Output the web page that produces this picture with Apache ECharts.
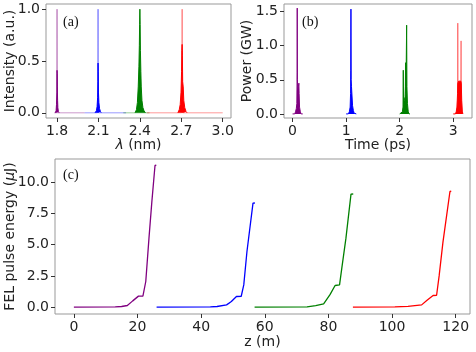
<!DOCTYPE html>
<html>
<head>
<meta charset="utf-8">
<script src="https://cdn.jsdelivr.net/npm/echarts@6/dist/echarts.min.js"></script>
<style>
  body { margin: 0; background: #fff; }
  #main { width: 476px; height: 352px; }
</style>
</head>
<body>
<div id="main"></div>
<script>
// ---- panel (a): spectra, wavelength (nm) vs intensity (a.u.)
var ticksA_x = [1.8, 2.1, 2.4, 2.7, 3.0];
var ticksA_y = [0, 0.5, 1.0];
var specPurpleLight = [[1.78,0],[1.798,0],[1.7995,0.5],[1.8,1.0],[1.8005,0.5],[1.802,0],[2.0,0]];
var specPurple = [[1.787,0],[1.793,0.02],[1.796,0.08],[1.799,0.2],[1.8,0.41],[1.801,0.38],[1.802,0.25],[1.804,0.12],[1.806,0.05],[1.81,0.01],[1.815,0]];
var specBlueLight = [[2.0,0],[2.094,0],[2.096,0.5],[2.097,1.0],[2.098,0.5],[2.1,0],[2.3,0]];
var specBlue = [[2.075,0],[2.085,0.02],[2.09,0.06],[2.094,0.15],[2.096,0.3],[2.097,0.48],[2.098,0.4],[2.1,0.2],[2.103,0.1],[2.108,0.04],[2.115,0.01],[2.12,0]];
var specGreenLight = [[2.28,0],[2.47,0]];
var specGreen = [[2.365,0],[2.375,0.03],[2.382,0.1],[2.388,0.25],[2.393,0.45],[2.396,0.65],[2.398,0.85],[2.4,1.0],[2.402,0.85],[2.404,0.6],[2.407,0.4],[2.41,0.25],[2.415,0.12],[2.422,0.05],[2.43,0.02],[2.44,0]];
var specRedLight = [[2.45,0],[2.703,0],[2.705,0.5],[2.706,1.0],[2.707,0.5],[2.709,0],[3.0,0]];
var specRed = [[2.675,0],[2.685,0.03],[2.692,0.08],[2.698,0.2],[2.702,0.4],[2.704,0.6],[2.706,0.66],[2.708,0.55],[2.71,0.3],[2.714,0.25],[2.718,0.12],[2.725,0.05],[2.735,0.01],[2.742,0]];

// ---- panel (b): power (GW) vs time (ps)
var ticksB_x = [0, 1, 2, 3];
var ticksB_y = [0, 0.5, 1.0, 1.5];
var powPurple = [[0,0],[0.04,0],[0.055,0.03],[0.07,0.08],[0.08,0.15],[0.085,0.6],[0.087,1.55],[0.09,0.5],[0.1,0.35],[0.11,0.4],[0.118,0.45],[0.122,0.3],[0.13,0.1],[0.145,0.03],[0.16,0],[0.19,0]];
var powBlue = [[1.0,0],[1.04,0],[1.06,0.03],[1.075,0.1],[1.083,0.3],[1.086,0.64],[1.09,1.535],[1.094,0.5],[1.1,0.4],[1.11,0.38],[1.12,0.12],[1.135,0.05],[1.15,0.01],[1.165,0],[1.19,0]];
var powGreen = [[2.0,0],[2.03,0],[2.05,0.03],[2.062,0.1],[2.067,0.64],[2.072,0.15],[2.085,0.2],[2.1,0.25],[2.106,0.4],[2.11,0.75],[2.116,0.3],[2.13,1.3],[2.135,0.4],[2.145,0.15],[2.16,0.03],[2.175,0],[2.19,0]];
var powRedLight = [[3.06,0],[3.08,0.2],[3.085,1.33],[3.09,0.3],[3.14,0.4],[3.146,1.07],[3.152,0.2],[3.17,0]];
var powRed = [[3.0,0],[3.04,0],[3.055,0.03],[3.07,0.1],[3.08,0.3],[3.085,0.45],[3.1,0.48],[3.12,0.5],[3.14,0.48],[3.15,0.45],[3.158,0.2],[3.168,0.04],[3.18,0],[3.19,0]];

// ---- panel (c): FEL pulse energy (uJ) vs z (m)
var ticksC_x = [0, 20, 40, 60, 80, 100, 120];
var ticksC_y = [0, 2.5, 5.0, 7.5, 10.0];
var enPurple = [[0,0],[13,0.02],[15,0.05],[16.8,0.13],[18.5,0.5],[20.3,0.88],[21.7,0.88],[22.6,2.05],[23.6,5.5],[24.5,8.4],[25.5,11.33],[25.9,11.35]];
var enBlue = [[26,0],[42.9,0.02],[45,0.05],[48,0.18],[49.5,0.45],[51.1,0.85],[52.6,0.87],[53.4,1.78],[54.4,4.45],[56.3,8.32],[56.9,8.33]];
var enGreen = [[56.8,0],[73.3,0.02],[76,0.12],[78.5,0.26],[80.5,1.0],[82.1,1.73],[83.5,1.78],[84.2,3.1],[85.5,5.5],[87.1,9.04],[87.8,9.05]];
var enRed = [[87.7,0],[100.9,0.02],[105,0.06],[109.3,0.18],[111,0.55],[112.9,0.93],[114,0.95],[114.8,2.5],[116,5.2],[118.2,9.25],[118.6,9.27]];

var PURPLE = '#800080', BLUE = '#0000ff', GREEN = '#008000', RED = '#ff0000';
var FONT = 'DejaVu Sans';

function axis(idx, min, max, ticks, digits, name, gap) {
  return {
    type: 'value', gridIndex: idx, min: min, max: max, name: name,
    nameLocation: 'middle', nameGap: gap, nameMoveOverlap: false,
    nameTextStyle: { fontSize: 14, color: '#222', fontFamily: FONT,
      rich: { i: { fontSize: 14, color: '#222', fontFamily: FONT, fontStyle: 'italic' } } },
    axisLine: { show: false, onZero: false },
    axisTick: { show: true, length: 4, customValues: ticks, lineStyle: { color: '#333' } },
    axisLabel: { customValues: ticks, fontSize: 14, color: '#222', fontFamily: FONT, margin: 6,
      formatter: function (v) { return v.toFixed(digits); } },
    splitLine: { show: false }
  };
}
function line(xi, data, color, width, fill) {
  var s = {
    type: 'line', xAxisIndex: xi, yAxisIndex: xi, data: data, symbol: 'none',
    lineStyle: { color: color, width: width }, itemStyle: { color: color },
    silent: true
  };
  if (fill) s.areaStyle = { color: color, opacity: 1 };
  return s;
}
function grid(l, t, w, h) {
  return { left: l, top: t, width: w, height: h, show: true, borderColor: '#999', borderWidth: 1,
    containLabel: false, outerBoundsMode: 'none' };
}

var chart = echarts.init(document.getElementById('main'));
chart.setOption({
  animation: false,
  grid: [grid(46, 4, 185, 114), grid(284, 4, 188, 114), grid(55, 159, 415, 155)],
  xAxis: [
    axis(0, 1.72, 3.06, ticksA_x, 1, '{i|λ} (nm)', 20),
    axis(1, -0.16, 3.35, ticksB_x, 0, 'Time (ps)', 20),
    axis(2, -5.93, 124.5, ticksC_x, 0, 'z (m)', 21)
  ],
  yAxis: [
    axis(0, -0.05, 1.05, ticksA_y, 1, 'Intensity (a.u.)', 29),
    axis(1, -0.06, 1.61, ticksB_y, 1, 'Power (GW)', 30),
    axis(2, -0.55, 11.85, ticksC_y, 1, 'FEL pulse energy ({i|μ}J)', 38)
  ],
  graphic: [
    { type: 'text', left: 63, top: 15, style: { text: '(a)', fontSize: 14, fontFamily: 'Liberation Serif', fill: '#111' } },
    { type: 'text', left: 302, top: 15, style: { text: '(b)', fontSize: 14, fontFamily: 'Liberation Serif', fill: '#111' } },
    { type: 'text', left: 63, top: 168, style: { text: '(c)', fontSize: 14, fontFamily: 'Liberation Serif', fill: '#111' } }
  ],
  series: [
    line(0, specPurpleLight, 'rgba(128,0,128,0.4)', 1, false),
    line(0, specBlueLight, 'rgba(0,0,255,0.4)', 1, false),
    line(0, specGreenLight, 'rgba(0,128,0,0.4)', 1, false),
    line(0, specRedLight, 'rgba(255,0,0,0.4)', 1, false),
    line(0, specPurple, PURPLE, 1, true),
    line(0, specBlue, BLUE, 1, true),
    line(0, specGreen, GREEN, 1, true),
    line(0, specRed, RED, 1, true),

    line(1, powPurple, PURPLE, 1, true),
    line(1, powBlue, BLUE, 1, true),
    line(1, powGreen, GREEN, 1, true),
    line(1, powRedLight, 'rgba(255,0,0,0.45)', 1, false),
    line(1, powRed, RED, 1, true),

    line(2, enPurple, PURPLE, 1.3, false),
    line(2, enBlue, BLUE, 1.3, false),
    line(2, enGreen, GREEN, 1.3, false),
    line(2, enRed, RED, 1.3, false)
  ]
});
</script>
</body>
</html>
